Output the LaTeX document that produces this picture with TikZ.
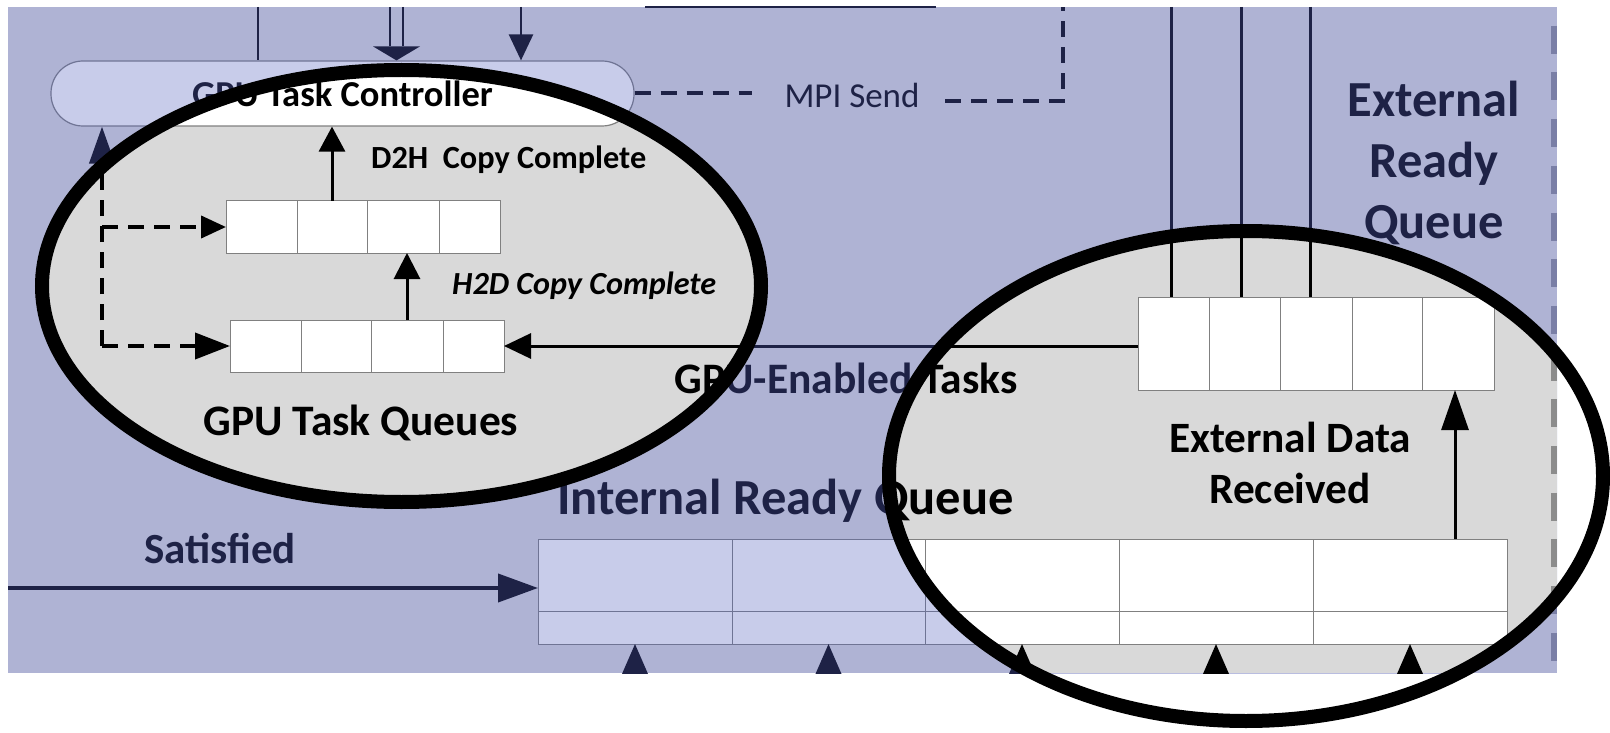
\documentclass[tikz,border=0pt]{standalone}
\usepackage{fontspec}
\setmainfont{Carlito}
\usetikzlibrary{arrows.meta}

% tinted (outside the lenses) and plain (inside the lenses) palettes
\definecolor{tintBg}{HTML}{AFB3D4}
\definecolor{tintBox}{HTML}{C8CCEA}
\definecolor{tintInk}{HTML}{1E2246}
\definecolor{tintRule}{HTML}{6F7494}
\definecolor{tintDash}{HTML}{7A7FA6}
\definecolor{lensBg}{HTML}{D9D9D9}
\definecolor{lensRule}{HTML}{808080}
\definecolor{lensDash}{HTML}{8C8C8C}
\definecolor{lensGlow}{HTML}{B9BDE0}
\colorlet{sBg}{tintBg}
\colorlet{sBox}{tintBox}
\colorlet{sInk}{tintInk}
\colorlet{sRule}{tintRule}
\colorlet{sDash}{tintDash}

\newcommand\fsz[1]{\fontsize{#1pt}{#1pt}\selectfont}

\tikzset{
  lbl/.style={text=sInk, inner sep=0pt, anchor=base, font=\bfseries\fsz{#1}},
  cellbox/.style 2 args={draw=sRule, fill=sBox, line width=1pt, inner sep=0pt,
    outer sep=0pt, anchor=north west, minimum width=#1pt, minimum height=#2pt},
  pill/.style={draw=sRule, fill=sBox, line width=1.2pt, rounded corners=32pt,
    minimum width=583pt, minimum height=65pt, inner sep=0pt, text=sInk,
    font=\bfseries\fsz{36.5}},
  wire/.style={draw=sInk, line width=#1},
  dashwire/.style={draw=sInk, line width=4pt, dash pattern=on 16pt off 10pt},
  ring/.style={draw=black, line width=14pt},
}

% the whole scheduler panel, drawn in the current s* colours
\newcommand\panel{%
  \fill[sBg] (8,7) rectangle (1557,673);
  \draw[sDash, line width=6pt, dash pattern=on 28pt off 18.7pt, dash phase=28pt]
    (1554,7) -- (1554,673);
  % controller
  \node[pill] (ctrl) at (342.5,93.5) {GPU Task Controller};
  % GPU task queues
  \node[cellbox={71}{52}] (q1a) at (226,201) {};
  \node[cellbox={70}{52}] (q1b) at (297,201) {};
  \node[cellbox={72}{52}] (q1c) at (367,201) {};
  \node[cellbox={61}{52}] (q1d) at (439,201) {};
  \node[cellbox={71}{52}] (q2a) at (230,320) {};
  \node[cellbox={70}{52}] (q2b) at (301,320) {};
  \node[cellbox={72}{52}] (q2c) at (371,320) {};
  \node[cellbox={61}{52}] (q2d) at (443,320) {};
  % external ready queue
  \node[cellbox={71}{93}] (eqa) at (1138,297) {};
  \node[cellbox={71}{93}] (eqb) at (1209,297) {};
  \node[cellbox={72}{93}] (eqc) at (1280,297) {};
  \node[cellbox={70}{93}] (eqd) at (1352,297) {};
  \node[cellbox={72}{93}] (eqe) at (1422,297) {};
  % internal ready queue
  \node[cellbox={194}{72}] (irq1) at (538,539) {};
  \node[cellbox={193}{72}] (irq2) at (732,539) {};
  \node[cellbox={194}{72}] (irq3) at (925,539) {};
  \node[cellbox={194}{72}] (irq4) at (1119,539) {};
  \node[cellbox={194}{72}] (irq5) at (1313,539) {};
  \node[cellbox={194}{33}] (irqb1) at (538,611) {};
  \node[cellbox={193}{33}] (irqb2) at (732,611) {};
  \node[cellbox={194}{33}] (irqb3) at (925,611) {};
  \node[cellbox={194}{33}] (irqb4) at (1119,611) {};
  \node[cellbox={194}{33}] (irqb5) at (1313,611) {};
  % feeds from above into the controller
  \coordinate (topA) at (258,7);
  \coordinate (topB) at (396.5,7);
  \coordinate (topC) at (521,7);
  \draw[wire=2.5pt] (topA) -- (topA |- ctrl.north);
  \coordinate (dblTip) at (topB |- ctrl.north);
  \path (dblTip) ++(0,-14) coordinate (dblBase);
  \draw[sInk, line width=2pt, double=sBg, double distance=11pt] (topB) -- (dblBase);
  \fill[sInk] (dblTip) -- ++(-23.5,-14) -- ++(47,0) -- cycle;
  \draw[wire=2.5pt, -{Triangle[length=26pt,width=24pt]}] (topC) -- (topC |- ctrl.north);
  % MPI send
  \node[text=sInk, font=\fsz{35}, inner sep=0pt, anchor=base] (mpi) at (852,108) {MPI Send};
  \coordinate (mpiL) at (752,0);
  \coordinate (mpiR) at (945,101);
  \coordinate (mpiUp) at (1063,7);
  \draw[dashwire] (ctrl.east) -- (ctrl.east -| mpiL);
  \draw[dashwire] (mpiR) -- (mpiR -| mpiUp) -- (mpiUp);
  % copy-complete transitions
  \draw[wire=3pt, -{Triangle[length=25pt,width=26pt]}] (q1b.north) -- (q1b.north |- ctrl.south);
  \draw[wire=3pt, -{Triangle[length=26pt,width=26pt]}] (q2c.north) -- (q2c.north |- q1c.south);
  % GPU-enabled tasks
  \draw[wire=3pt, -{Triangle[length=27pt,width=25pt]}] (eqa.west |- q2d.east) -- (q2d.east);
  % dashed feeds on the left
  \coordinate (lv) at (102,346);
  \draw[dashwire, -{Triangle[length=37pt,width=25pt]}] (lv) -- (lv |- ctrl.south);
  \draw[dashwire, -{Triangle[length=25pt,width=22pt]}] (lv |- q1a.west) -- (q1a.west);
  \draw[dashwire, -{Triangle[length=35pt,width=26pt]}] (lv) -- (q2a.west);
  % lines into the external ready queue
  \coordinate (ex1) at (1171,7);
  \coordinate (ex2) at (1241,7);
  \coordinate (ex3) at (1310,7);
  \draw[wire=3pt] (ex1) -- (ex1 |- eqa.north);
  \draw[wire=3pt] (ex2) -- (ex2 |- eqb.north);
  \draw[wire=3pt] (ex3) -- (ex3 |- eqc.north);
  % external data received
  \coordinate (exUp) at (1455,0);
  \draw[wire=3pt, -{Triangle[length=40pt,width=27pt]}] (exUp |- irq5.north) -- (exUp |- eqe.south);
  % satisfied
  \coordinate (sat) at (8,588);
  \draw[wire=4pt, -{Triangle[length=40pt,width=28pt]}] (sat) -- (sat -| irq1.west);
  % feeds from below
  \coordinate (bot) at (0,720);
  \foreach \idx in {1,...,5}
    \draw[wire=3pt, -{Triangle[length=40pt,width=34pt]}] (irqb\idx.south |- bot) -- (irqb\idx.south);
  % labels
  \node[lbl=32.3, anchor=base west] (d2h) at (371,168) {D2H\ \ Copy Complete};
  \node[lbl=32, anchor=base west, font=\bfseries\itshape\fsz{32.2}] (h2d) at (452,294) {H2D Copy Complete};
  \node[lbl=43.5] (gtq) at (361,435) {GPU Task Queues};
  \node[lbl=43.5] (get) at (846,393) {GPU-Enabled Tasks};
  \node[lbl=50.5] (irqt) at (785.5,514) {Internal Ready Queue};
  \node[lbl=43] (sattxt) at (220,563) {Satisfied};
  \node[lbl=50.5] (erq1) at (1434,117) {External};
  \node[lbl=50.5] (erq2) at (1434,178) {Ready};
  \node[lbl=50.5] (erq3) at (1434,238) {Queue};
  \node[lbl=43.3] (edr1) at (1290,452) {External Data};
  \node[lbl=43.3] (edr2) at (1290,503) {Received};
}

\begin{document}
\begin{tikzpicture}[x=1pt,y=-1pt]
\useasboundingbox (0,0) rectangle (1610,733);
% tinted view
\begin{scope}
  \clip (8,7) rectangle (1557,673);
  \panel
\end{scope}
% soft glow along the inner rim of each lens
\begin{scope}
  \clip (8,7) rectangle (1557,673);
  \fill[lensGlow] (401.5,286) ellipse [x radius=359.5pt, y radius=216pt];
  \fill[lensGlow] (1246,476) ellipse [x radius=357pt, y radius=245pt];
\end{scope}
% plain view seen through the two lenses
\begin{scope}
  \clip (8,7) rectangle (1557,673);
  \clip (404.5,287) ellipse [x radius=359.5pt, y radius=216pt]
        (1249,477) ellipse [x radius=357pt, y radius=245pt];
  \colorlet{sBg}{lensBg}\colorlet{sBox}{white}\colorlet{sInk}{black}%
  \colorlet{sRule}{lensRule}\colorlet{sDash}{lensDash}%
  \panel
\end{scope}
% edge of the box above
\draw[tintInk, line width=2pt] (645,7.5) -- (936,7.5);
% lens rims
\draw[ring] (401.5,286) ellipse [x radius=359.5pt, y radius=216pt];
\draw[ring] (1246,476) ellipse [x radius=357pt, y radius=245pt];
\end{tikzpicture}
\end{document}
